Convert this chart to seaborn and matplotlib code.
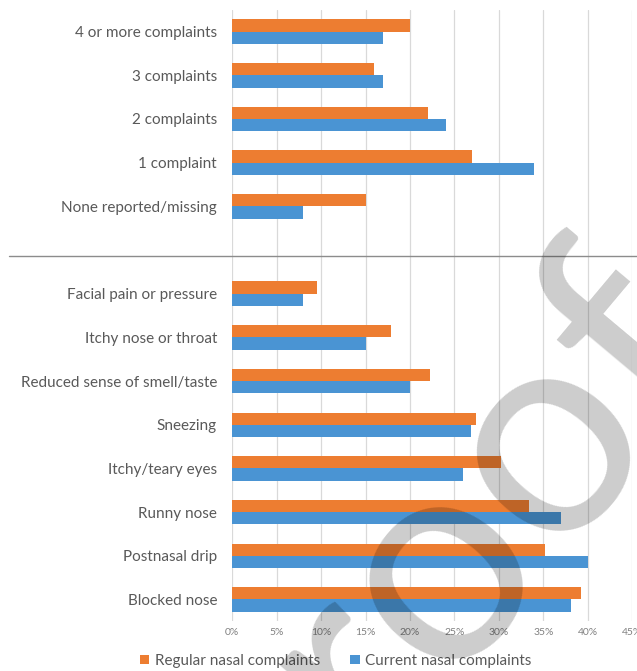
# 鼻部症状分组条形图
import matplotlib.pyplot as plt
import matplotlib.ticker as mticker
from matplotlib.lines import Line2D
import pandas as pd
import seaborn as sns

# 上半部分：症状数量
count_labels = ['4 or more complaints', '3 complaints', '2 complaints', '1 complaint', 'None reported/missing']
count_regular = [20, 16, 22, 27, 15]
count_current = [17, 17, 24, 34, 8]

# 下半部分：具体症状
symptom_labels = ['Facial pain or pressure', 'Itchy nose or throat', 'Reduced sense of smell/taste', 'Sneezing',
                  'Itchy/teary eyes', 'Runny nose', 'Postnasal drip', 'Blocked nose']
symptom_regular = [9.5, 17.9, 22.3, 27.4, 30.2, 33.4, 35.2, 39.3]
symptom_current = [8, 15, 20, 26.9, 26, 37, 40, 38.1]

series_names = ['Regular nasal complaints', 'Current nasal complaints']
colors = ['#ED7D31', '#4A94D3']
x_ticks = list(range(0, 50, 5))

labels = count_labels + symptom_labels
regular = count_regular + symptom_regular
current = count_current + symptom_current
df = pd.DataFrame({
    'category': labels * 2,
    'series': [series_names[0]] * len(labels) + [series_names[1]] * len(labels),
    'value': regular + current,
})
order = count_labels + [''] + symptom_labels  # 空行用来分隔两部分

sns.set_style('white')
plt.rcParams['font.family'] = ['Lato', 'DejaVu Sans']

fig = plt.figure(figsize=(6.37, 6.71), dpi=100)
ax = fig.add_axes([0.3647, 0.0741, 0.6276, 0.9113])
sns.barplot(data=df, y='category', x='value', hue='series', order=order, hue_order=series_names,
            palette=colors, saturation=1, width=0.56, orient='h', errorbar=None, linewidth=0, ax=ax)

ax.set_xlim(0, 45)
ax.set_ylim(13.5, -0.5)
ax.set_xticks(x_ticks)
ax.xaxis.set_major_formatter(mticker.PercentFormatter(decimals=0))
ax.grid(axis='x', color='#d9d9d9', lw=0.9)
ax.set_axisbelow(True)
sns.despine(ax=ax, left=True, bottom=True)
ax.tick_params(axis='y', length=0, pad=11, labelsize=11, labelcolor='#595959')
ax.tick_params(axis='x', length=0, pad=5, labelsize=7.5, labelcolor='#808080')
ax.set_xlabel('')
ax.set_ylabel('')

# 分隔线
fig.add_artist(Line2D([9 / 637, 1], [1 - 255.7 / 671] * 2, color='#8c8c8c', lw=1))

handles, names = ax.get_legend_handles_labels()
ax.get_legend().remove()
fig.legend(handles, names, loc='center', bbox_to_anchor=(0.527, 0.015), ncol=2, frameon=False,
           fontsize=11, labelcolor='#595959', handlelength=0.6, handleheight=0.6,
           handletextpad=0.35, columnspacing=2.0)

# 水印
fig.text(432 / 637, 1 - 562 / 671, 'proof', rotation=50, rotation_mode='anchor', ha='center', va='center',
         fontsize=212, color='black', alpha=0.2, zorder=10)

fig.savefig('out.png', dpi=100)
